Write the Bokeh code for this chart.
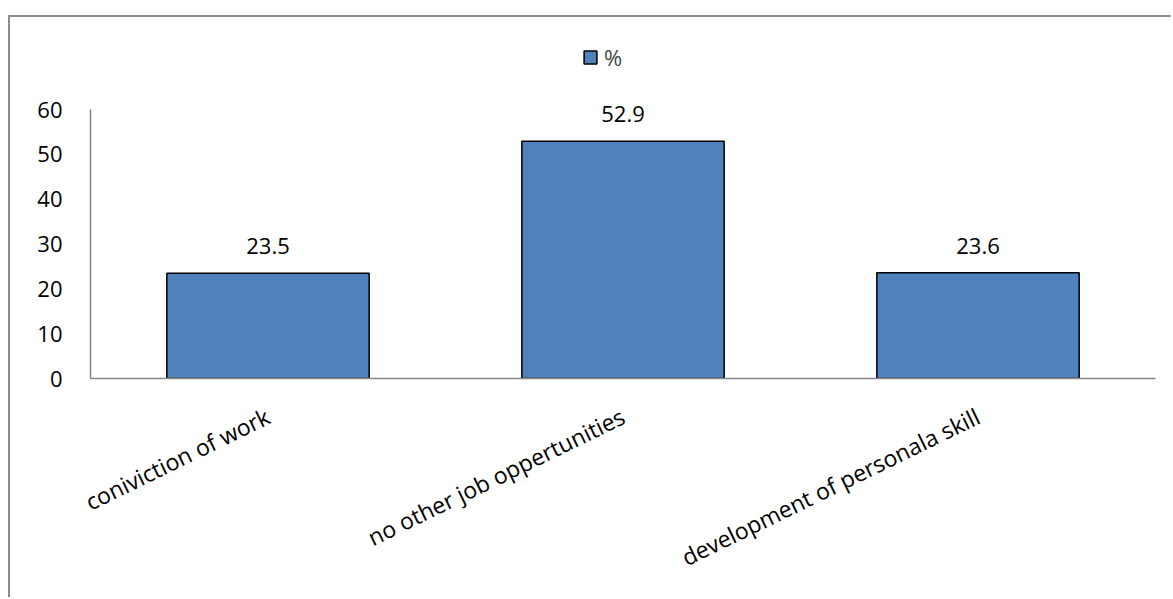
import math

from bokeh.core.properties import value
from bokeh.embed import file_html
from bokeh.models import (ColumnDataSource, FactorRange, FixedTicker,
                          LabelSet, Legend, LegendItem, Range1d)
from bokeh.plotting import figure
from bokeh.resources import INLINE

# Reasons for choosing the job (percent of respondents)
categories = ["coniviction of work", "no other job oppertunities", "development of personala skill"]
percent = [23.5, 52.9, 23.6]
y_ticks = [0, 10, 20, 30, 40, 50, 60]
series_name = "%"

FONT = "Open Sans"
FONT_SIZE = "22px"
CAT_FONT_SIZE = "23px"
BAR_COLOR = "#4F81BD"
AXIS_GRAY = "#868686"

# canvas geometry (pixels)
W, H = 1163, 582
LEFT, RIGHT, TOP, BOTTOM = 80, 18, 8, 221
PX_PER_UNIT = 269 / 60          # 0..60 spans 269 px
frame_h = H - TOP - BOTTOM
y_top = frame_h / PX_PER_UNIT   # room above 60 holds the legend

source = ColumnDataSource(data=dict(
    cat=categories,
    val=percent,
    txt=[f"{v}" for v in percent],
))

p = figure(
    width=W, height=H,
    x_range=FactorRange(*categories),
    y_range=Range1d(0, y_top),
    output_backend="svg",
    toolbar_location=None,
    min_border_left=LEFT, min_border_right=RIGHT,
    min_border_top=TOP, min_border_bottom=BOTTOM,
)
# chart border: only the left and top edges fall inside the page
p.styles = {
    "margin-left": "8px", "margin-top": "15px",
    "border-left": "2px solid #8C8C8C", "border-top": "2px solid #8C8C8C",
}
p.outline_line_color = None
p.background_fill_color = "white"
p.border_fill_color = "white"
p.xgrid.grid_line_color = None
p.ygrid.grid_line_color = None

bars = p.vbar(x="cat", top="val", width=0.57, source=source,
              fill_color=BAR_COLOR, line_color="black", line_width=1.5)

# value labels above each bar
labels = LabelSet(x="cat", y="val", text="txt", source=source,
                  y_offset=19, text_align="center", text_baseline="alphabetic",
                  text_font=value(FONT), text_font_size=FONT_SIZE, text_color="black")
p.add_layout(labels)

# y axis
p.yaxis.ticker = FixedTicker(ticks=y_ticks)
p.yaxis.bounds = (0, 60)
p.yaxis.axis_line_color = AXIS_GRAY
p.yaxis.axis_line_width = 1.5
p.yaxis.major_tick_line_color = None
p.yaxis.minor_tick_line_color = None
p.yaxis.major_label_standoff = 22
p.yaxis.major_label_text_font = FONT
p.yaxis.major_label_text_font_size = FONT_SIZE
p.yaxis.major_label_text_color = "black"

# x axis with slanted category names
p.xaxis.axis_line_color = AXIS_GRAY
p.xaxis.axis_line_width = 1.5
p.xaxis.major_tick_line_color = None
p.xaxis.minor_tick_line_color = None
p.xaxis.major_label_orientation = math.radians(26)
p.xaxis.major_label_standoff = 30
p.xaxis.major_label_text_font = FONT
p.xaxis.major_label_text_font_size = CAT_FONT_SIZE
p.xaxis.major_label_text_color = "black"

# legend above the bars
legend = Legend(
    items=[LegendItem(label=series_name, renderers=[bars])],
    location=(492, 306),
    orientation="horizontal",
    padding=0, margin=0, spacing=0,
    glyph_width=16, glyph_height=16, label_height=16,
    label_standoff=6,
    label_text_font=FONT, label_text_font_size=FONT_SIZE,
    label_text_baseline="middle",
    border_line_color=None, background_fill_alpha=0,
)
p.add_layout(legend)

open("out.html", "w").write(file_html(p, INLINE))
